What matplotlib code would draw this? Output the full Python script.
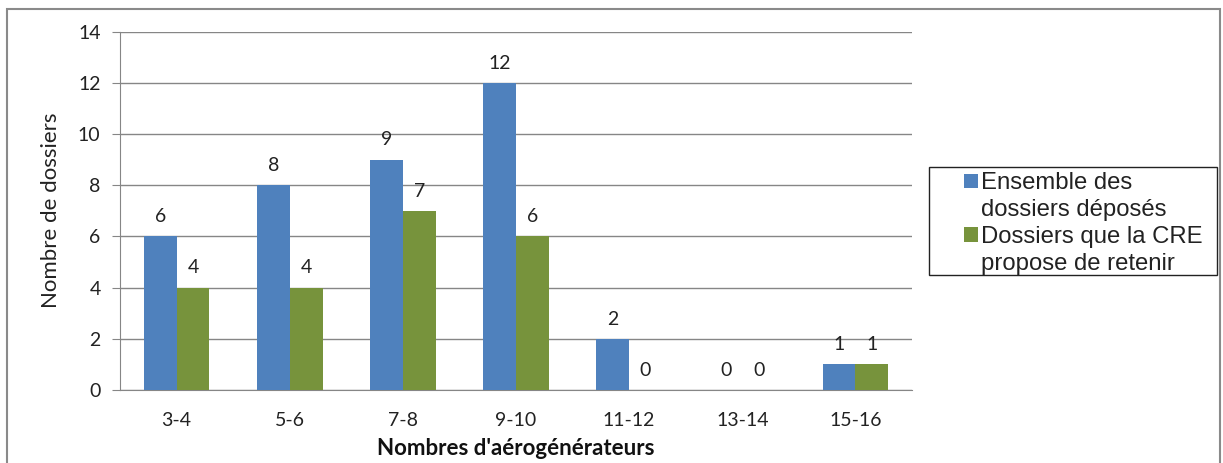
import matplotlib
matplotlib.use("Agg")
import matplotlib.pyplot as plt
import numpy as np
from matplotlib.patches import Rectangle, Patch

categories = ["3-4", "5-6", "7-8", "9-10", "11-12", "13-14", "15-16"]
ensemble = [6, 8, 9, 12, 2, 0, 1]
retenus = [4, 4, 7, 6, 0, 0, 1]
series_names = ["Ensemble des\ndossiers déposés", "Dossiers que la CRE\npropose de retenir"]
yticks = [0, 2, 4, 6, 8, 10, 12, 14]

blue = "#4F81BD"
green = "#77933C"

plt.rcParams['font.family'] = ['Lato', 'DejaVu Sans']

W, H = 1223, 463
fig = plt.figure(figsize=(W/100, H/100), dpi=100)
fig.patches.append(Rectangle((7/W, -0.05), (1220-7)/W, 1 - 8.5/H + 0.05,
                             transform=fig.transFigure, fill=False,
                             edgecolor="#8a8a8a", linewidth=1.5))

ax = fig.add_axes([120/W, 1 - 390/H, (912-120)/W, (390-31.5)/H])
x = np.arange(len(categories))
w = 0.29
b1 = ax.bar(x - w/2, ensemble, w, color=blue, zorder=3)
b2 = ax.bar(x + w/2, retenus, w, color=green, zorder=3)

for bars, vals in ((b1, ensemble), (b2, retenus)):
    for rect, v in zip(bars, vals):
        ax.annotate(str(v), (rect.get_x() + rect.get_width()/2, v),
                    xytext=(0, 8), textcoords="offset points",
                    ha="center", va="bottom", fontsize=14, color="#222222")

ax.set_xlim(-0.5, len(categories) - 0.5)
ax.set_ylim(0, 14)
ax.set_yticks(yticks)
ax.set_xticks(x)
ax.set_xticklabels(categories)
ax.yaxis.grid(True, color="#868686", linewidth=1.0, zorder=0)
ax.set_axisbelow(True)
for s in ("top", "right"):
    ax.spines[s].set_visible(False)
ax.spines["left"].set_color("#868686")
ax.spines["bottom"].set_color("#868686")
ax.tick_params(axis="y", length=6, color="#868686", labelsize=14, labelcolor="#222222", pad=8)
ax.tick_params(axis="x", length=0, labelsize=14, labelcolor="#222222", pad=16)

ax.set_ylabel("Nombre de dossiers", fontsize=16, color="#222222")
ax.yaxis.set_label_coords(-0.074, 0.5)
ax.set_xlabel("Nombres d'aérogénérateurs", fontsize=16, fontweight="bold",
              color="#111111", labelpad=6)

# Legend: frame drawn as a figure rectangle, entries split per line so the
# colour square sits on the first line of each label (as in the reference).
fig.patches.append(Rectangle((929/W, 1 - 275/H), (1217-929)/W, (275-167)/H,
                             transform=fig.transFigure, fill=False,
                             edgecolor="#222222", linewidth=1.0))
handles, labels = [], []
for color, name in ((blue, series_names[0]), (green, series_names[1])):
    lines = name.split("\n")
    handles.append(Patch(facecolor=color, edgecolor="none"))
    labels.append(lines[0])
    for extra in lines[1:]:
        handles.append(Patch(facecolor="none", edgecolor="none"))
        labels.append(extra)
leg = ax.legend(handles, labels, loc="upper left",
                bbox_to_anchor=(962/W, 1 - 170/H),
                bbox_transform=fig.transFigure, frameon=False,
                handlelength=0.55, handleheight=0.55,
                handletextpad=0.15, borderpad=0.1, labelspacing=0.2, borderaxespad=0,
                prop={"family": ["Liberation Sans", "DejaVu Sans"], "size": 17.2})
for t in leg.get_texts():
    t.set_color("#222222")

fig.savefig("out.png", dpi=100)
